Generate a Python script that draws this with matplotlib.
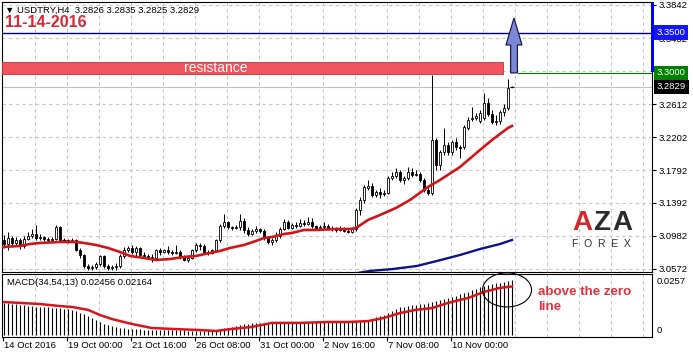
import matplotlib
matplotlib.use('Agg')
import matplotlib.pyplot as plt
from matplotlib.patches import Rectangle, Polygon, Ellipse
from matplotlib.transforms import blended_transform_factory

plt.rcParams['font.family'] = ['Liberation Sans', 'DejaVu Sans']

# USDTRY H4 candles
opens = [3.0928, 3.0878, 3.0953, 3.0891, 3.0928, 3.0854, 3.0940, 3.0978, 3.1002, 3.0953,
         3.0965, 3.0940, 3.0928, 3.0940, 3.1089, 3.0928, 3.0928, 3.0916, 3.0928, 3.0804,
         3.0742, 3.0606, 3.0581, 3.0593, 3.0630, 3.0730, 3.0606, 3.0581, 3.0593, 3.0606,
         3.0730, 3.0804, 3.0829, 3.0779, 3.0829, 3.0742, 3.0730, 3.0717, 3.0705, 3.0804,
         3.0779, 3.0804, 3.0779, 3.0767, 3.0779, 3.0717, 3.0680, 3.0705, 3.0804, 3.0866,
         3.0854, 3.0779, 3.0767, 3.0804, 3.0928, 3.1102, 3.1151, 3.1089, 3.1077, 3.1089,
         3.1164, 3.1052, 3.1002, 3.1040, 3.1064, 3.1040, 3.0953, 3.0903, 3.0928, 3.0978,
         3.1064, 3.1151, 3.1077, 3.1114, 3.1102, 3.1139, 3.1126, 3.1151, 3.1102, 3.1077,
         3.1089, 3.1102, 3.1077, 3.1064, 3.1052, 3.1077, 3.1040, 3.1027, 3.1064, 3.1300,
         3.1424, 3.1573, 3.1598, 3.1486, 3.1523, 3.1498, 3.1511, 3.1697, 3.1722, 3.1771,
         3.1672, 3.1697, 3.1771, 3.1734, 3.1746, 3.1672, 3.1548, 3.1511, 3.2168, 3.1858,
         3.2019, 3.2106, 3.2019, 3.2143, 3.2081, 3.2081, 3.2317, 3.2428, 3.2441, 3.2404,
         3.2441, 3.2627, 3.2490, 3.2391, 3.2404, 3.2515, 3.2565, 3.2826]
highs = [3.0990, 3.1027, 3.0978, 3.0965, 3.0953, 3.0978, 3.1027, 3.1064, 3.1114, 3.1002,
         3.0978, 3.0965, 3.0965, 3.1114, 3.1102, 3.0953, 3.0940, 3.0953, 3.0940, 3.0829,
         3.0754, 3.0630, 3.0618, 3.0655, 3.0742, 3.0742, 3.0630, 3.0618, 3.0643, 3.0754,
         3.0841, 3.0854, 3.0866, 3.0854, 3.0841, 3.0779, 3.0754, 3.0754, 3.0816, 3.0829,
         3.0816, 3.0854, 3.0804, 3.0866, 3.0804, 3.0742, 3.0730, 3.0816, 3.0891, 3.0891,
         3.0878, 3.0804, 3.0816, 3.0940, 3.1126, 3.1250, 3.1164, 3.1102, 3.1114, 3.1250,
         3.1201, 3.1089, 3.1064, 3.1102, 3.1077, 3.1064, 3.0978, 3.0953, 3.1027, 3.1089,
         3.1188, 3.1176, 3.1139, 3.1151, 3.1188, 3.1176, 3.1213, 3.1201, 3.1114, 3.1114,
         3.1151, 3.1126, 3.1102, 3.1089, 3.1102, 3.1089, 3.1064, 3.1077, 3.1325, 3.1461,
         3.1610, 3.1672, 3.1635, 3.1548, 3.1573, 3.1548, 3.1722, 3.1771, 3.1821, 3.1796,
         3.1722, 3.1833, 3.1821, 3.1796, 3.1771, 3.1697, 3.1610, 3.2974, 3.2193, 3.2044,
         3.2317, 3.2143, 3.2168, 3.2193, 3.2106, 3.2354, 3.2453, 3.2577, 3.2503, 3.2540,
         3.2751, 3.2689, 3.2540, 3.2478, 3.2540, 3.2614, 3.2924, 3.2835]
lows = [3.0829, 3.0804, 3.0841, 3.0866, 3.0816, 3.0829, 3.0928, 3.0953, 3.0928, 3.0928,
        3.0916, 3.0903, 3.0916, 3.0928, 3.0916, 3.0903, 3.0891, 3.0903, 3.0792, 3.0705,
        3.0581, 3.0556, 3.0556, 3.0568, 3.0606, 3.0581, 3.0556, 3.0556, 3.0556, 3.0581,
        3.0705, 3.0779, 3.0754, 3.0730, 3.0717, 3.0705, 3.0692, 3.0655, 3.0692, 3.0742,
        3.0767, 3.0754, 3.0742, 3.0754, 3.0692, 3.0668, 3.0655, 3.0692, 3.0779, 3.0804,
        3.0767, 3.0742, 3.0754, 3.0779, 3.0903, 3.1077, 3.1064, 3.1052, 3.1064, 3.1052,
        3.1015, 3.0978, 3.0990, 3.1015, 3.1015, 3.0928, 3.0878, 3.0866, 3.0903, 3.0953,
        3.1052, 3.1064, 3.1064, 3.1077, 3.1089, 3.1102, 3.1114, 3.1077, 3.1064, 3.1064,
        3.1064, 3.1052, 3.1040, 3.1027, 3.1040, 3.1027, 3.1015, 3.1015, 3.1040, 3.1238,
        3.1387, 3.1548, 3.1461, 3.1461, 3.1449, 3.1474, 3.1498, 3.1672, 3.1697, 3.1647,
        3.1622, 3.1672, 3.1709, 3.1722, 3.1647, 3.1523, 3.1486, 3.1486, 3.1796, 3.1796,
        3.1982, 3.1982, 3.1982, 3.2044, 3.1945, 3.2056, 3.2292, 3.2404, 3.2416, 3.2379,
        3.2416, 3.2466, 3.2366, 3.2354, 3.2366, 3.2466, 3.2540, 3.2825]
closes = [3.0878, 3.0953, 3.0891, 3.0928, 3.0854, 3.0940, 3.0978, 3.1002, 3.0953, 3.0965,
          3.0940, 3.0928, 3.0940, 3.1089, 3.0928, 3.0930, 3.0916, 3.0928, 3.0804, 3.0742,
          3.0606, 3.0581, 3.0593, 3.0630, 3.0730, 3.0606, 3.0581, 3.0593, 3.0606, 3.0730,
          3.0804, 3.0829, 3.0779, 3.0829, 3.0742, 3.0730, 3.0717, 3.0705, 3.0804, 3.0779,
          3.0804, 3.0779, 3.0767, 3.0779, 3.0717, 3.0680, 3.0705, 3.0804, 3.0866, 3.0854,
          3.0779, 3.0767, 3.0804, 3.0928, 3.1102, 3.1151, 3.1089, 3.1077, 3.1089, 3.1164,
          3.1052, 3.1002, 3.1040, 3.1064, 3.1040, 3.0953, 3.0903, 3.0928, 3.0978, 3.1064,
          3.1151, 3.1077, 3.1114, 3.1102, 3.1139, 3.1126, 3.1151, 3.1102, 3.1077, 3.1089,
          3.1102, 3.1077, 3.1064, 3.1052, 3.1077, 3.1040, 3.1027, 3.1064, 3.1300, 3.1424,
          3.1585, 3.1598, 3.1486, 3.1523, 3.1498, 3.1511, 3.1697, 3.1722, 3.1771, 3.1672,
          3.1697, 3.1771, 3.1734, 3.1746, 3.1672, 3.1548, 3.1511, 3.2168, 3.1858, 3.2019,
          3.2106, 3.2019, 3.2143, 3.2081, 3.2069, 3.2329, 3.2416, 3.2441, 3.2466, 3.2503,
          3.2627, 3.2490, 3.2391, 3.2404, 3.2515, 3.2565, 3.2813, 3.2829]

# moving averages (bar index, price)
ma_red_bar = [-0.5, 4, 6.5, 9, 14, 18, 20, 23, 26, 29, 31.5, 35, 38, 41.5, 45, 48, 51.5, 54,
              56.5, 60, 63, 65, 67, 70, 72, 75, 78, 83, 86.5, 88, 91, 94, 98, 101.5, 106,
              109, 114, 119, 122, 126, 127]
ma_red_val = [3.0841, 3.0854, 3.0878, 3.0891, 3.0903, 3.0903, 3.0891, 3.0866, 3.0829, 3.0779,
              3.0730, 3.0705, 3.0680, 3.0692, 3.0717, 3.0730, 3.0767, 3.0792, 3.0829, 3.0866,
              3.0916, 3.0953, 3.0965, 3.1002, 3.1015, 3.1052, 3.1052, 3.1064, 3.1064, 3.1077,
              3.1176, 3.1238, 3.1325, 3.1424, 3.1585, 3.1672, 3.1833, 3.2044, 3.2168, 3.2317,
              3.2342]
ma_blue_bar = [88, 91.5, 97.25, 103.25, 108.25, 114, 119, 124, 127]
ma_blue_val = [3.0515, 3.0544, 3.0568, 3.0606, 3.0668, 3.0742, 3.0816, 3.0878, 3.0928]

# MACD(34,54,13) main line as histogram, one value per bar
macd_hist = [0.0143, 0.0141, 0.0139, 0.0137, 0.0134, 0.0132, 0.0130, 0.0128, 0.0127, 0.0125,
             0.0124, 0.0123, 0.0122, 0.0121, 0.0120, 0.0118, 0.0115, 0.0112, 0.0106, 0.0099,
             0.0093, 0.0086, 0.0076, 0.0066, 0.0058, 0.0051, 0.0045, 0.0038, 0.0034, 0.0031,
             0.0029, 0.0028, 0.0027, 0.0026, 0.0025, 0.0024, 0.0023, 0.0022, 0.0022, 0.0022,
             0.0022, 0.0022, 0.0022, 0.0022, 0.0021, 0.0020, 0.0019, 0.0018, 0.0018, 0.0018,
             0.0019, 0.0020, 0.0022, 0.0024, 0.0026, 0.0029, 0.0032, 0.0036, 0.0040, 0.0044,
             0.0048, 0.0051, 0.0054, 0.0054, 0.0055, 0.0055, 0.0054, 0.0054, 0.0055, 0.0055,
             0.0056, 0.0056, 0.0056, 0.0056, 0.0056, 0.0057, 0.0057, 0.0057, 0.0057, 0.0057,
             0.0057, 0.0058, 0.0058, 0.0058, 0.0058, 0.0058, 0.0058, 0.0058, 0.0060, 0.0062,
             0.0065, 0.0068, 0.0073, 0.0078, 0.0083, 0.0090, 0.0099, 0.0108, 0.0117, 0.0125,
             0.0127, 0.0130, 0.0132, 0.0134, 0.0137, 0.0140, 0.0143, 0.0147, 0.0151, 0.0156,
             0.0160, 0.0164, 0.0170, 0.0175, 0.0181, 0.0186, 0.0192, 0.0199, 0.0206, 0.0212,
             0.0218, 0.0222, 0.0226, 0.0230, 0.0234, 0.0238, 0.0242, 0.02456]
sig_bar = [0, 4, 9, 14, 17, 21, 24, 27, 32, 37, 42, 49, 53, 57, 62, 67, 74, 81, 86, 91, 95,
           99, 103, 107, 111, 116, 120, 124, 127]
sig_val = [0.0147, 0.0143, 0.0138, 0.0129, 0.0125, 0.0112, 0.0089, 0.0071, 0.0049, 0.0031,
           0.0027, 0.0022, 0.0018, 0.0027, 0.0036, 0.0054, 0.0054, 0.0058, 0.0058, 0.0062,
           0.0076, 0.0098, 0.0112, 0.0120, 0.0143, 0.0165, 0.0192, 0.0210, 0.02164]

price_ticks = [3.3842, 3.3432, 3.3022, 3.2612, 3.2202, 3.1792, 3.1392, 3.0982, 3.0572]
price_labels = ['3.3842', '3.3432', '', '3.2612', '3.2202', '3.1792', '3.1392', '3.0982', '3.0572']
date_bars = [0, 16, 32, 48, 64, 80, 96, 112]
date_labels = ['14 Oct 2016', '19 Oct 00:00', '21 Oct 16:00', '26 Oct 08:00',
               '31 Oct 00:00', '2 Nov 16:00', '7 Nov 08:00', '10 Nov 00:00']
res_low, res_high = 3.2986, 3.3135
target = 3.35
level = 3.30
bid = 3.2829

W, H = 693, 357
fig = plt.figure(figsize=(W / 100, H / 100), dpi=100)
fig.patch.set_facecolor('white')


def rect(x0, y0, x1, y1):
    return [x0 / W, 1 - y1 / H, (x1 - x0) / W, (y1 - y0) / H]


ax = fig.add_axes(rect(2, 2, 652, 272))
ax2 = fig.add_axes(rect(2, 274, 652, 337))
xmin, xmax = -0.5, 162
grid_x = [8 * k - 0.25 for k in range(1, 21)]

for a in (ax, ax2):
    a.set_xlim(xmin, xmax)
    for s in a.spines.values():
        s.set_color('black')
        s.set_linewidth(0.8)
    for gx in grid_x:
        a.axvline(gx, color='#c8c8c8', lw=0.8, ls=(0, (3, 3)), zorder=0)

# ---- price panel ----
ax.set_ylim(3.0531, 3.3879)
ax.set_xticks([])
ax.yaxis.tick_right()
ax.set_yticks(price_ticks)
ax.set_yticklabels(price_labels, fontsize=6.8)
ax.tick_params(axis='y', direction='out', length=3, width=0.8, pad=2)
for p in price_ticks:
    ax.axhline(p, color='#c8c8c8', lw=0.8, ls=(0, (3, 3)), zorder=0)

ax.axhline(bid, color='#c0c0c0', lw=0.8, zorder=0.5)
ax.axhline(level, xmin=(128.5 - xmin) / (xmax - xmin), color='#007a00', lw=0.8, zorder=1)
ax.axhline(target, color='#000080', lw=1.0, zorder=1)

for i in range(len(opens)):
    o, h, l, c = opens[i], highs[i], lows[i], closes[i]
    ax.vlines(i, l, h, color='black', lw=0.7, zorder=3)
    if abs(c - o) < 0.0004:
        ax.hlines((o + c) / 2, i - 0.4, i + 0.4, color='black', lw=0.9, zorder=4)
    else:
        fc = 'white' if c > o else 'black'
        ax.add_patch(Rectangle((i - 0.36, min(o, c)), 0.72, abs(c - o), facecolor=fc,
                               edgecolor='black', lw=0.6, zorder=4))

ax.plot(ma_red_bar, ma_red_val, color='#d0161c', lw=1.9, zorder=5)
ax.plot(ma_blue_bar, ma_blue_val, color='#10128a', lw=1.7, zorder=5)

# resistance zone
ax.add_patch(Rectangle((xmin, res_low), 124.75 - xmin, res_high - res_low,
                       facecolor='#f0545c', edgecolor='#c83038', lw=0.6, zorder=6))
ax.text(53, (res_low + res_high) / 2, 'resistance', color='white', fontsize=10,
        ha='center', va='center', zorder=7)

# target arrow
c0 = 127.5
arrow = [(c0 - 0.85, level), (c0 + 0.85, level), (c0 + 0.85, 3.3346), (c0 + 2.0, 3.3346),
         (c0, 3.3681), (c0 - 2.0, 3.3346), (c0 - 0.85, 3.3346)]
ax.add_patch(Polygon(arrow, closed=True, facecolor='#7b88d8', edgecolor='#1c1c50',
                     lw=0.9, zorder=7))

trans = blended_transform_factory(ax.transAxes, ax.transData)
ax.add_patch(Rectangle((0.998, 3.3010), 0.005, 3.3879 - 3.3010, transform=trans,
                       facecolor='#0000ff', edgecolor='none', clip_on=False, zorder=8))
for val, txt, col in [(target, '3.3500', '#1414ff'), (level, '3.3000', '#008000'),
                      (bid, '3.2829', 'black')]:
    ax.text(1.0075, val, txt, transform=trans, fontsize=6.8, color='white', ha='left',
            va='center', clip_on=False, zorder=9,
            bbox=dict(boxstyle='square,pad=0.28', fc=col, ec='none'))

# ---- MACD panel ----
ax2.set_ylim(-0.0009, 0.0272)
ax2.set_yticks([])
bars = list(range(len(macd_hist)))
ax2.vlines(bars, 0, macd_hist, color='black', lw=0.8, zorder=3)
ax2.plot(sig_bar, sig_val, color='#d8141c', lw=1.8, zorder=4)
ax2.set_xticks([b - 0.25 for b in date_bars])
ax2.set_xticklabels([])
ax2.tick_params(axis='x', direction='out', length=3, width=0.8)
xt = blended_transform_factory(ax2.transData, ax2.transAxes)
for b, lab in zip(date_bars, date_labels):
    ax2.text(b + 0.1, -0.07, lab, transform=xt, fontsize=6.8, ha='left', va='top')
t2 = blended_transform_factory(ax2.transAxes, ax2.transData)
ax2.text(1.0075, 0.0257, '0.0257', transform=t2, fontsize=6.8, ha='left', va='top')
ax2.text(1.0075, 0.0, '0', transform=t2, fontsize=6.8, ha='left', va='bottom')
ax2.text(0.008, 0.93, 'MACD(34,54,13) 0.02456 0.02164', transform=ax2.transAxes,
         fontsize=6.8, ha='left', va='top')
ax2.add_patch(Ellipse((125.75, 0.0201), 12.25, 0.0152, fill=False, edgecolor='black',
                      lw=0.8, clip_on=False, zorder=6))

# ---- texts ----
fig.text(5 / W, 1 - 10 / H, '\u25bc USDTRY,H4  3.2826 3.2835 3.2825 3.2829', fontsize=6.8,
         ha='left', va='center')
fig.text(5 / W, 1 - 22.5 / H, '11-14-2016', fontsize=11.5, fontweight='bold', color='#d42a3a',
         ha='left', va='center')
fig.text(538 / W, 1 - 292 / H, 'above the zero', fontsize=9.6, fontweight='bold',
         color='#e0323c', ha='left', va='center')
fig.text(538 / W, 1 - 307 / H, 'line', fontsize=9.6, fontweight='bold', color='#e0323c',
         ha='left', va='center')

# logo
for lx, ch, col in [(582, 'A', '#d2282e'), (602, 'Z', '#2b2b2b'), (622, 'A', '#2b2b2b')]:
    fig.text(lx / W, 1 - 223 / H, ch, fontsize=20, fontweight='bold', color=col,
             ha='center', va='center')
fig.text(601 / W, 1 - 244 / H, 'F  O  R  E  X', fontsize=7.5, color='#333333',
         ha='center', va='center')

fig.savefig('out.png', dpi=100)
